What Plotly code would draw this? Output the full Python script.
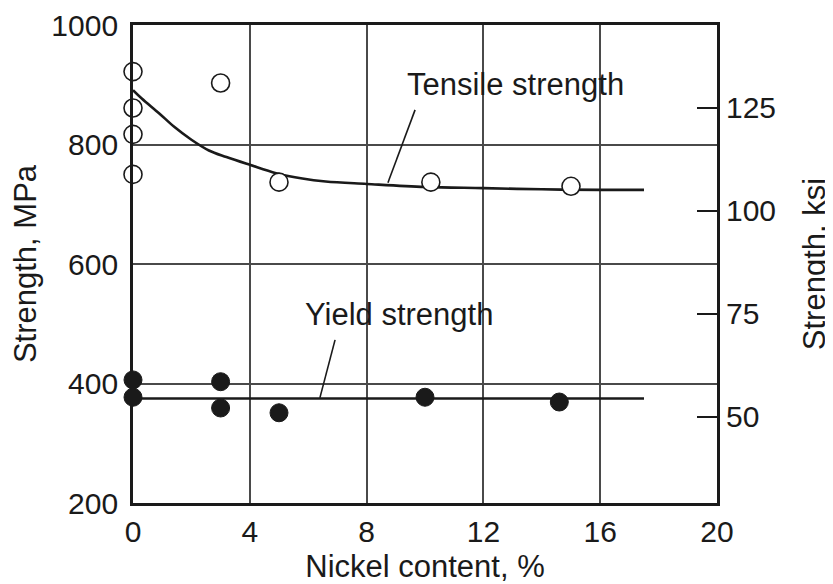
import plotly.graph_objects as go

# ---- data ----
MPA_PER_KSI = 6.895

tensile_nickel = [0, 0, 0, 0, 3, 5, 10.2, 15]
tensile_mpa = [922, 861, 817, 750, 903, 737, 737, 730]

yield_nickel = [0, 0, 3, 3, 5, 10, 14.6]
yield_mpa = [406, 377, 403, 359, 351, 377, 369]

curve_nickel = [0, 0.3, 0.9, 1.4, 2, 2.6, 3.2, 4, 4.9, 5.8, 6.6, 8, 10, 12, 14, 16, 17.5]
curve_tensile = [891, 877, 852, 830, 808, 790, 779, 766, 752, 743, 738, 734, 729, 727, 725, 724, 724]

yield_line_nickel = [0, 17.5]
yield_line_mpa = [375, 375]

x_ticks = [0, 4, 8, 12, 16, 20]
mpa_ticks = [200, 400, 600, 800, 1000]
ksi_ticks = [50, 75, 100, 125]

mpa_range = [200, 1000]
x_range = [0, 20]

# label positions (data units) and leader lines
tensile_label = dict(x=13.1, y=900, text="Tensile strength")
tensile_leader = dict(x0=9.66, y0=858, x1=8.73, y1=736)
yield_label = dict(x=9.1, y=516, text="Yield strength")
yield_leader = dict(x0=6.92, y0=473, x1=6.40, y1=376)

FONT = "Liberation Sans, Arial, sans-serif"
INK = "#1a1a1a"
GRID = "#4a4a4a"
TICK_SIZE = 30
TEXT_SIZE = 31

fig = go.Figure()

fig.add_trace(go.Scatter(x=curve_nickel, y=curve_tensile, mode="lines",
                         line=dict(color=INK, width=2.6, shape="spline", smoothing=1.0),
                         cliponaxis=False, showlegend=False, hoverinfo="skip"))
fig.add_trace(go.Scatter(x=yield_line_nickel, y=yield_line_mpa, mode="lines",
                         line=dict(color=INK, width=2.6),
                         cliponaxis=False, showlegend=False, hoverinfo="skip"))
fig.add_trace(go.Scatter(x=tensile_nickel, y=tensile_mpa, mode="markers",
                         marker=dict(symbol="circle", size=18, color="white",
                                     line=dict(color=INK, width=1.6)),
                         cliponaxis=False, name="Tensile strength", showlegend=False))
fig.add_trace(go.Scatter(x=yield_nickel, y=yield_mpa, mode="markers",
                         marker=dict(symbol="circle", size=18, color=INK,
                                     line=dict(color=INK, width=1)),
                         cliponaxis=False, name="Yield strength", showlegend=False))

# invisible trace to activate the ksi axis
fig.add_trace(go.Scatter(x=[None], y=[None], yaxis="y2", showlegend=False, hoverinfo="skip"))

for lbl, ld in ((tensile_label, tensile_leader), (yield_label, yield_leader)):
    fig.add_annotation(x=lbl["x"], y=lbl["y"], xref="x", yref="y", text=lbl["text"],
                       showarrow=False, font=dict(family=FONT, size=TEXT_SIZE, color=INK))
    fig.add_shape(type="line", xref="x", yref="y", x0=ld["x0"], y0=ld["y0"],
                  x1=ld["x1"], y1=ld["y1"], line=dict(color=INK, width=1.6))

# the page body adds an 8px offset, so the figure is 8px smaller and margins shifted
fig.update_layout(
    width=825, height=576, autosize=False,
    margin=dict(l=125, r=116, t=17, b=81),
    paper_bgcolor="white", plot_bgcolor="white",
    font=dict(family=FONT, size=TICK_SIZE, color=INK),
    showlegend=False,
    xaxis=dict(range=x_range, tickvals=x_ticks, showgrid=True, gridcolor=GRID,
               gridwidth=1.5, zeroline=False, showline=True, linecolor=INK,
               linewidth=2.8, mirror=True, ticks="", ticklabelstandoff=0,
               automargin=False,
               title=dict(text="Nickel content, %", standoff=10,
                          font=dict(family=FONT, size=TEXT_SIZE, color=INK)),
               tickfont=dict(family=FONT, size=TICK_SIZE, color=INK)),
    yaxis=dict(range=mpa_range, tickvals=mpa_ticks, showgrid=True, gridcolor=GRID,
               gridwidth=1.5, zeroline=False, showline=True, linecolor=INK,
               linewidth=2.8, mirror=True, ticks="", ticklabelstandoff=6,
               automargin=False,
               title=dict(text="Strength, MPa", standoff=10,
                          font=dict(family=FONT, size=TEXT_SIZE, color=INK)),
               tickfont=dict(family=FONT, size=TICK_SIZE, color=INK)),
    yaxis2=dict(range=[mpa_range[0] / MPA_PER_KSI, mpa_range[1] / MPA_PER_KSI],
                overlaying="y", side="right", tickvals=ksi_ticks, showgrid=False,
                zeroline=False, showline=False, ticks="inside", ticklen=20,
                tickwidth=1.6, tickcolor=INK, ticklabelstandoff=8,
                automargin=False,
                title=dict(text="Strength, ksi", standoff=28,
                           font=dict(family=FONT, size=TEXT_SIZE, color=INK)),
                tickfont=dict(family=FONT, size=TICK_SIZE, color=INK)),
)

fig.write_html("out.html")
